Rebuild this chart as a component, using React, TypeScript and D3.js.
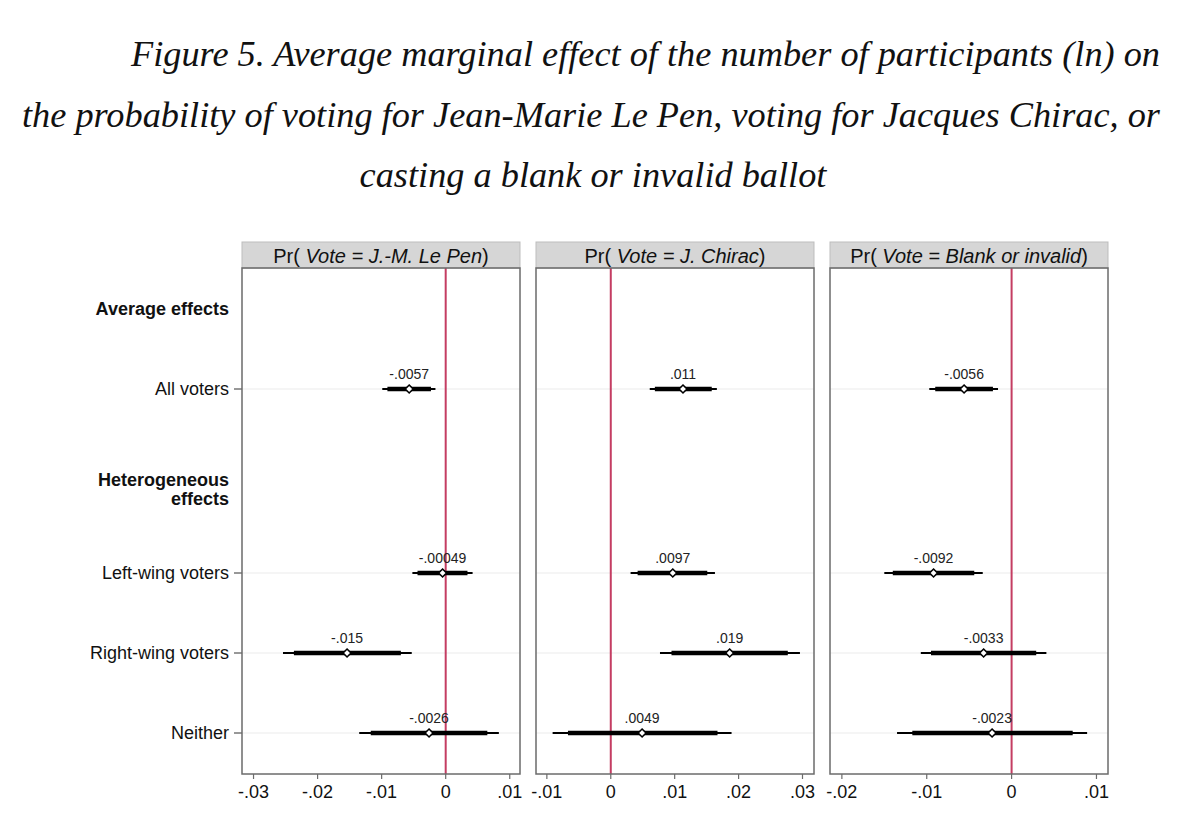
import React from "react";
import * as d3 from "d3";

// ---------- data ----------
const titleLines = [
  "Figure 5. Average marginal effect of the number of participants (ln) on",
  "the probability of voting for Jean-Marie Le Pen, voting for Jacques Chirac, or",
  "casting a blank or invalid ballot",
];

const groups = ["All voters", "Left-wing voters", "Right-wing voters", "Neither"];
const groupPos = [1, 3.3, 4.3, 5.3];
const headings = [["Average effects"], ["Heterogeneous", "effects"]];
const headingPos = [0, 2.26];

const panelOutcome = ["J.-M. Le Pen", "J. Chirac", "Blank or invalid"];

const lePenEst = [-0.0057, -0.00049, -0.0154, -0.0026];
const lePenLo95 = [-0.0099, -0.0052, -0.0254, -0.0135];
const lePenHi95 = [-0.0016, 0.0042, -0.0053, 0.0083];
const lePenLo90 = [-0.0091, -0.0044, -0.0237, -0.0117];
const lePenHi90 = [-0.0023, 0.0034, -0.007, 0.0065];

const chiracEst = [0.0113, 0.0097, 0.0186, 0.0049];
const chiracLo95 = [0.0061, 0.0031, 0.0077, -0.0091];
const chiracHi95 = [0.0166, 0.0163, 0.0296, 0.0189];
const chiracLo90 = [0.0069, 0.0042, 0.0095, -0.0067];
const chiracHi90 = [0.0158, 0.0151, 0.0277, 0.0167];

const blankEst = [-0.0056, -0.0092, -0.0033, -0.0023];
const blankLo95 = [-0.0097, -0.015, -0.0107, -0.0135];
const blankHi95 = [-0.0016, -0.0034, 0.0041, 0.0089];
const blankLo90 = [-0.009, -0.014, -0.0095, -0.0117];
const blankHi90 = [-0.0022, -0.0044, 0.0029, 0.0072];

const lePenDomain = [-0.0318, 0.0116];
const chiracDomain = [-0.0117, 0.0318];
const blankDomain = [-0.0214, 0.01136];

const lePenTicks = [-0.03, -0.02, -0.01, 0, 0.01];
const chiracTicks = [-0.01, 0, 0.01, 0.02, 0.03];
const blankTicks = [-0.02, -0.01, 0, 0.01];

// ---------- layout ----------
const W = 1200;
const H = 833;
const panelX0 = 242;
const panelW = 278;
const panelGap = 16;
const headerTop = 242;
const headerH = 26;
const plotTop = headerTop + headerH;
const plotBottom = 774;
const rowY0 = 309;
const rowStep = 80;
const headingLine = 19;

const sans = "'Liberation Sans', Arial, Helvetica, sans-serif";
const serif = "'Liberation Serif', 'Times New Roman', serif";
const refColor = "#c43d62";
const frameColor = "#6b6b6b";

const fmt = (v: number) => {
  if (v === 0) return "0";
  const s = d3.format(".2~g")(v).replace("\u2212", "-");
  return s.replace(/^(-?)0\./, "$1.");
};

const panels = [
  { est: lePenEst, lo95: lePenLo95, hi95: lePenHi95, lo90: lePenLo90, hi90: lePenHi90, domain: lePenDomain, ticks: lePenTicks },
  { est: chiracEst, lo95: chiracLo95, hi95: chiracHi95, lo90: chiracLo90, hi90: chiracHi90, domain: chiracDomain, ticks: chiracTicks },
  { est: blankEst, lo95: blankLo95, hi95: blankHi95, lo90: blankLo90, hi90: blankHi90, domain: blankDomain, ticks: blankTicks },
];

export default function App() {
  const y = d3
    .scaleLinear()
    .domain([0, 1])
    .range([rowY0, rowY0 + rowStep]);

  const diamond = d3.symbol().type(d3.symbolDiamond2).size(40);

  return (
    <svg
      width={W}
      height={H}
      viewBox={`0 0 ${W} ${H}`}
      style={{ position: "absolute", left: 0, top: 0, background: "#fff" }}
    >
      <rect x={0} y={0} width={W} height={H} fill="#fff" />
      {/* Title */}
      <g fontFamily={serif} fontStyle="italic" fontSize={36.3} fill="#111">
        <text x={1160} y={66} textAnchor="end">{titleLines[0]}</text>
        <text x={22} y={127} textAnchor="start" textLength={1138} lengthAdjust="spacing">{titleLines[1]}</text>
        <text x={593} y={187} textAnchor="middle">{titleLines[2]}</text>
      </g>

      {/* Row labels */}
      <g fontFamily={sans} fontSize={18} fill="#111">
        {headings.map((lines, i) => (
          <text key={"h" + i} x={229} y={y(headingPos[i]) - ((lines.length - 1) * headingLine) / 2} textAnchor="end" fontWeight="bold" dominantBaseline="central">
            {lines.map((l, j) => (
              <tspan key={j} x={229} dy={j === 0 ? 0 : headingLine}>{l}</tspan>
            ))}
          </text>
        ))}
        {groups.map((g, i) => (
          <g key={"g" + i}>
            <text x={229} y={y(groupPos[i])} textAnchor="end" dominantBaseline="central">{g}</text>
            <line x1={234} x2={panelX0} y1={y(groupPos[i])} y2={y(groupPos[i])} stroke="#333" strokeWidth={1} />
          </g>
        ))}
      </g>

      {panels.map((p, k) => {
        const left = panelX0 + k * (panelW + panelGap);
        const x = d3.scaleLinear().domain(p.domain).range([left, left + panelW]);
        return (
          <g key={"p" + k}>
            {/* header */}
            <rect x={left} y={headerTop} width={panelW} height={headerH} fill="#d6d6d6" stroke="#bdbdbd" strokeWidth={1} />
            <text x={left + panelW / 2} y={headerTop + headerH / 2 + 1} textAnchor="middle" dominantBaseline="central" fontFamily={sans} fontSize={20} fill="#111">
              Pr( <tspan fontStyle="italic">Vote = {panelOutcome[k]}</tspan>)
            </text>
            {/* gridlines */}
            {groups.map((g, i) => (
              <line key={"gl" + i} x1={left} x2={left + panelW} y1={y(groupPos[i])} y2={y(groupPos[i])} stroke="#ececec" strokeWidth={1.2} />
            ))}
            {/* reference line */}
            <line x1={x(0)} x2={x(0)} y1={plotTop} y2={plotBottom} stroke={refColor} strokeWidth={2} />
            {/* CIs and points */}
            {groups.map((g, i) => {
              const yy = y(groupPos[i]);
              return (
                <g key={"c" + i}>
                  <line x1={x(p.lo95[i])} x2={x(p.hi95[i])} y1={yy} y2={yy} stroke="#000" strokeWidth={2} />
                  <line x1={x(p.lo90[i])} x2={x(p.hi90[i])} y1={yy} y2={yy} stroke="#000" strokeWidth={4.5} />
                  <path d={diamond() || ""} transform={`translate(${x(p.est[i])},${yy})`} fill="#fff" stroke="#000" strokeWidth={1.6} />
                  <text x={x(p.est[i])} y={yy - 10} textAnchor="middle" fontFamily={sans} fontSize={14} fill="#222">
                    {fmt(p.est[i])}
                  </text>
                </g>
              );
            })}
            {/* frame */}
            <rect x={left} y={plotTop} width={panelW} height={plotBottom - plotTop} fill="none" stroke={frameColor} strokeWidth={1.5} />
            {/* x axis ticks */}
            {p.ticks.map((t, j) => (
              <g key={"t" + j}>
                <line x1={x(t)} x2={x(t)} y1={plotBottom} y2={plotBottom + 5} stroke={frameColor} strokeWidth={1.2} />
                <text x={x(t)} y={plotBottom + 24} textAnchor="middle" fontFamily={sans} fontSize={18} fill="#111">
                  {fmt(t)}
                </text>
              </g>
            ))}
          </g>
        );
      })}
    </svg>
  );
}
